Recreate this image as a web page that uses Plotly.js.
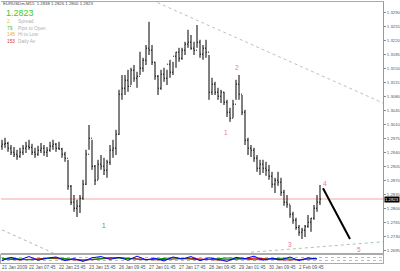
<!DOCTYPE html>
<html><head><meta charset="utf-8">
<script src="https://cdn.plot.ly/plotly-3.0.1.min.js"></script>
<style>html,body{margin:0;padding:0;background:#fff}#c{width:400px;height:271px}</style>
</head><body><div id="c"></div><script>
// EURUSDm M15 bars (index order, left to right)
const high=[1.2971,1.2976,1.2966,1.2958,1.2953,1.2946,1.2951,1.2958,1.2966,1.2971,
1.2961,1.2951,1.2956,1.2963,1.2958,1.2953,1.2966,1.2971,1.2963,1.2966,
1.2951,1.2941,1.2921,1.2858,1.2833,1.2821,1.2833,1.2871,1.2946,1.3008,
1.2971,1.2908,1.2921,1.2933,1.2926,1.2921,1.2958,1.2971,1.2996,1.3096,
1.3133,1.3133,1.3146,1.3151,1.3158,1.3141,1.3191,1.3176,1.3208,1.3266,
1.3208,1.3166,1.3133,1.3146,1.3151,1.3146,1.3171,1.3166,1.3191,1.3201,
1.3201,1.3216,1.3246,1.3233,1.3216,1.3258,1.3221,1.3208,1.3221,1.3183,
1.3126,1.3116,1.3101,1.3096,1.3091,1.3071,1.3051,1.3071,1.3121,1.3133,
1.3083,1.3046,1.2976,1.2958,1.2951,1.2933,1.2921,1.2921,1.2916,1.2908,
1.2891,1.2876,1.2891,1.2876,1.2846,1.2833,1.2808,1.2791,1.2776,1.2758,
1.2751,1.2758,1.2783,1.2776,1.2808,1.2833,1.2858];
const low=[1.2946,1.2951,1.2941,1.2933,1.2928,1.2921,1.2926,1.2933,1.2938,1.2946,
1.2933,1.2926,1.2931,1.2938,1.2931,1.2928,1.2941,1.2946,1.2941,1.2946,
1.2926,1.2916,1.2846,1.2808,1.2791,1.2778,1.2788,1.2821,1.2858,1.2946,
1.2896,1.2858,1.2871,1.2896,1.2883,1.2876,1.2908,1.2926,1.2933,1.2983,
1.3071,1.3083,1.3091,1.3108,1.3116,1.3101,1.3133,1.3141,1.3158,1.3183,
1.3158,1.3121,1.3083,1.3096,1.3116,1.3108,1.3126,1.3133,1.3151,1.3166,
1.3171,1.3183,1.3201,1.3196,1.3183,1.3201,1.3176,1.3171,1.3176,1.3071,
1.3083,1.3083,1.3071,1.3063,1.3058,1.3028,1.3016,1.3026,1.3071,1.3071,
1.3033,1.2958,1.2933,1.2928,1.2916,1.2891,1.2883,1.2888,1.2881,1.2871,
1.2851,1.2838,1.2856,1.2831,1.2806,1.2801,1.2776,1.2761,1.2746,1.2731,
1.2723,1.2728,1.2751,1.2741,1.2771,1.2791,1.2808];
const close=[1.2960,1.2962,1.2950,1.2940,1.2935,1.2930,1.2940,1.2950,1.2955,1.2952,
1.2940,1.2935,1.2945,1.2950,1.2940,1.2945,1.2955,1.2960,1.2950,1.2948,
1.2935,1.2925,1.2855,1.2815,1.2800,1.2805,1.2825,1.2860,1.2935,1.2975,
1.2905,1.2870,1.2910,1.2905,1.2895,1.2915,1.2945,1.2950,1.2985,1.3085,
1.3100,1.3120,1.3105,1.3145,1.3125,1.3130,1.3150,1.3170,1.3200,1.3195,
1.3165,1.3130,1.3100,1.3135,1.3125,1.3160,1.3140,1.3180,1.3190,1.3175,
1.3195,1.3210,1.3215,1.3200,1.3195,1.3215,1.3185,1.3200,1.3190,1.3090,
1.3110,1.3090,1.3080,1.3090,1.3065,1.3040,1.3025,1.3060,1.3110,1.3085,
1.3040,1.2970,1.2950,1.2945,1.2925,1.2900,1.2910,1.2900,1.2895,1.2880,
1.2860,1.2870,1.2865,1.2840,1.2815,1.2810,1.2785,1.2770,1.2752,1.2740,
1.2745,1.2755,1.2765,1.2775,1.2800,1.2815,1.2823];
const firstOpen=1.2955;
const bid=1.2823;
const dateLabels=["21 Jan 2009","22 Jan 07:45","22 Jan 23:45","23 Jan 15:45","26 Jan 09:45","27 Jan 01:45","27 Jan 17:45","28 Jan 09:45","29 Jan 01:45","30 Jan 09:45","2 Feb 09:45"];
const dateBars=[0,9,19,29,39,49,59,69,79,89,99];
// trend lines and projection (bar index, price)
const upperTrendX=[50,127], upperTrendY=[1.3320,1.3063];
const lowLeftX=[0,20], lowLeftY=[1.2746,1.2678];
const lowRightX=[83,127], lowRightY=[1.2690,1.2716];
const projX=[107,116], projY=[1.2850,1.2723];
// wave labels
const waveText=["1","2","3","4","5"];
const waveX=[74.7,78.3,96,107.7,119];
const waveY=[1.2990,1.3153,1.2710,1.2863,1.2698];
// oscillator (every 3rd bar)
const oscRed=[50,45,40,45,55,60,55,45,40,35,40,50,60,65,60,50,45,40,45,55,60,58,50,42,38,40,48,55,60,55,45,40,38,42,50,55];
const oscGreen=[55,60,50,40,45,58,65,55,45,38,45,58,68,62,52,45,40,48,60,65,55,45,40,45,55,62,58,48,40,45,55,60,50,42,48,58];
const oscBlue=[30,70,40,80,35,60,75,30,55,20,65,80,45,70,35,85,40,60,25,75,50,80,30,65,45,20,70,55,85,35,60,40,75,30,65,50];
// info panel
const infoNum=["2","79","145","153"];
const infoLbl=["Spread","Pips to Open","Hi to Low","Daily Av"];
const infoCol=["#e8c030","#30c030","#e8b030","#e03030"];

const open=close.map((c,i)=>i?close[i-1]:firstOpen);
const bars=close.map((_,i)=>i);
const oscX=oscRed.map((_,k)=>k*3);

const traces=[
 {type:'scatter',mode:'lines',x:upperTrendX,y:upperTrendY,line:{color:'#b8c4b8',width:1,dash:'dot'},xaxis:'x',yaxis:'y'},
 {type:'scatter',mode:'lines',x:lowLeftX,y:lowLeftY,line:{color:'#b8b8b8',width:1,dash:'dot'},xaxis:'x',yaxis:'y'},
 {type:'scatter',mode:'lines',x:lowRightX,y:lowRightY,line:{color:'#a8c8a8',width:1,dash:'dot'},xaxis:'x',yaxis:'y'},
 {type:'ohlc',x:bars,open:open,high:high,low:low,close:close,tickwidth:0.3,
  increasing:{line:{color:'#000',width:1}},decreasing:{line:{color:'#000',width:1}},xaxis:'x',yaxis:'y'},
 {type:'scatter',mode:'lines',x:projX,y:projY,line:{color:'#000',width:2},xaxis:'x',yaxis:'y'},
 {type:'scatter',mode:'lines',x:oscX,y:oscRed,line:{color:'#e00000',width:1},xaxis:'x2',yaxis:'y2'},
 {type:'scatter',mode:'lines',x:oscX,y:oscGreen,line:{color:'#008800',width:1},xaxis:'x2',yaxis:'y2'},
 {type:'scatter',mode:'lines',x:oscX,y:oscBlue,line:{color:'#0000ff',width:1},xaxis:'x2',yaxis:'y2'}
];

const F='Arial, Liberation Sans, sans-serif';
const py=y=>(263-y)/261; // pixel row -> paper fraction (for text placement)
const ann=[];
dateLabels.forEach((t,i)=>ann.push({xref:'x',yref:'paper',x:dateBars[i]-0.3,y:py(267),text:t,showarrow:false,xanchor:'left',yanchor:'middle',borderpad:0,font:{size:4.6,color:'#555',family:F}}));
waveText.forEach((t,i)=>ann.push({xref:'x',yref:'y',x:waveX[i],y:waveY[i],text:t,showarrow:false,font:{size:6.5,color:'#e87898',family:F}}));
ann.push({xref:'x',yref:'y',x:34,y:1.2756,text:'1',showarrow:false,font:{size:6.5,color:'#777',family:F}});
ann.push({xref:'paper',yref:'y',x:1.002,y:bid,text:bid.toFixed(4),showarrow:false,xanchor:'left',bgcolor:'#000',font:{size:4.3,color:'#fff',family:F},borderpad:0});
ann.push({xref:'paper',yref:'paper',x:0.003,y:py(4),text:'EURUSDm,M15  1.2838 1.2826 1.2800 1.2823',showarrow:false,xanchor:'left',yanchor:'middle',borderpad:0,font:{size:4.3,color:'#444',family:F}});
ann.push({xref:'paper',yref:'paper',x:0.01,y:py(13),text:bid.toFixed(4),showarrow:false,xanchor:'left',yanchor:'middle',borderpad:0,font:{size:9,color:'#33cc33',family:F}});
const rows=[22,28.5,35,41.5];
infoNum.forEach((t,i)=>{
 ann.push({xref:'paper',yref:'paper',x:0.012,y:py(rows[i]),text:t,showarrow:false,xanchor:'left',yanchor:'middle',borderpad:0,font:{size:4.8,color:infoCol[i],family:F}});
 ann.push({xref:'paper',yref:'paper',x:0.042,y:py(rows[i]),text:infoLbl[i],showarrow:false,xanchor:'left',yanchor:'middle',borderpad:0,font:{size:4.8,color:'#b0b0b0',family:F}});
});

const layout={
 width:400,height:271,margin:{l:1,r:17,t:2,b:8},showlegend:false,
 paper_bgcolor:'#fff',plot_bgcolor:'#fff',
 font:{family:F},
 xaxis:{domain:[0,1],range:[-0.3333,127],anchor:'y',showticklabels:false,showgrid:false,zeroline:false,
  showline:true,mirror:true,linecolor:'#aaa',linewidth:1,rangeslider:{visible:false},fixedrange:true},
 xaxis2:{domain:[0,1],range:[-0.3333,127],anchor:'y2',showticklabels:false,showgrid:false,zeroline:false,
  showline:true,mirror:true,linecolor:'#aaa',linewidth:1},
 yaxis:{domain:[0.0383,1],range:[1.2688,1.33155],side:'right',tick0:1.2695,dtick:0.0035,tickformat:'.4f',
  ticks:'outside',ticklen:2,tickcolor:'#888',tickfont:{size:4.3,color:'#555',family:F},showgrid:false,zeroline:false,
  showline:true,linecolor:'#999',anchor:'x'},
 yaxis2:{domain:[0,0.0307],range:[0,100],showticklabels:false,showgrid:true,gridcolor:'#bbb',griddash:'dot',
  dtick:33,zeroline:false,showline:true,mirror:true,linecolor:'#aaa',anchor:'x2'},
 shapes:[{type:'line',layer:'below',xref:'paper',x0:0,x1:1,yref:'y',y0:bid,y1:bid,line:{color:'#f4a8a8',width:1}}],
 annotations:ann
};
Plotly.newPlot('c',traces,layout,{staticPlot:true,displayModeBar:false});
</script></body></html>
